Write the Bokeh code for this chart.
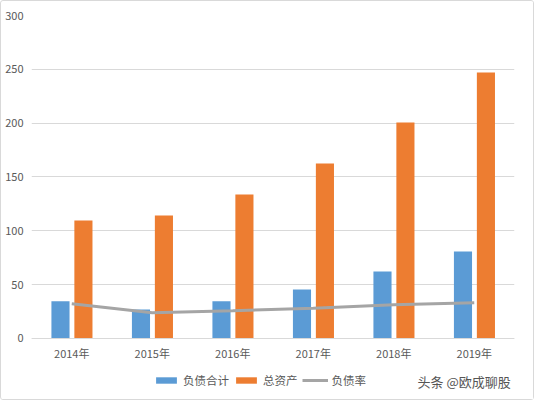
from bokeh.plotting import figure
from bokeh.models import (FactorRange, Range1d, Legend, LegendItem, Label,
                          ColumnDataSource, FixedTicker)
from bokeh.transform import dodge
from bokeh.embed import file_html
from bokeh.resources import INLINE

years = ["2014年", "2015年", "2016年", "2017年", "2018年", "2019年"]
liabilities = [34.6, 26.9, 34.6, 45.5, 62.2, 80.8]
assets = [109.6, 114.2, 133.7, 162.5, 200.6, 247.0]
debt_ratio = [32.2, 23.9, 25.7, 28.2, 31.3, 33.2]
y_ticks = [0, 50, 100, 150, 200, 250, 300]

FONT = "Noto Sans CJK SC"
BLUE, ORANGE, GREY = "#5B9BD5", "#ED7D31", "#A5A5A5"

src = ColumnDataSource(dict(year=years, liab=liabilities, assets=assets, ratio=debt_ratio))

p = figure(width=534, height=400, x_range=FactorRange(*years), y_range=Range1d(-56.66, 300),
           output_backend="svg", toolbar_location=None,
           min_border_left=30, min_border_right=21, min_border_top=14, min_border_bottom=2)
p.styles = {"border": "1px solid #D9D9D9", "border-radius": "3px"}
p.outline_line_color = None
p.background_fill_color = "white"
p.border_fill_color = "white"

r1 = p.vbar(x=dodge("year", -0.14, range=p.x_range), top="liab", width=0.225, source=src,
            fill_color=BLUE, line_color=None)
r2 = p.vbar(x=dodge("year", 0.145, range=p.x_range), top="assets", width=0.225, source=src,
            fill_color=ORANGE, line_color=None)
r3 = p.line(x="year", y="ratio", source=src, line_color=GREY, line_width=3)

p.yaxis.ticker = FixedTicker(ticks=y_ticks)
p.yaxis.axis_line_color = None
p.yaxis.major_tick_line_color = None
p.yaxis.minor_tick_line_color = None
p.yaxis.major_tick_out = 0
p.yaxis.major_tick_in = 0
p.yaxis.minor_tick_out = 0
p.yaxis.major_label_standoff = 8
p.yaxis.major_label_text_font = FONT
p.yaxis.major_label_text_font_size = "11px"
p.yaxis.major_label_text_color = "#595959"

p.xaxis.fixed_location = 0
p.xaxis.axis_line_color = "#D9D9D9"
p.xaxis.major_tick_line_color = None
p.xaxis.minor_tick_line_color = None
p.xaxis.major_tick_out = 0
p.xaxis.major_tick_in = 0
p.xaxis.major_label_standoff = 7
p.xaxis.major_label_text_font = FONT
p.xaxis.major_label_text_font_size = "11px"
p.xaxis.major_label_text_color = "#595959"

p.xgrid.grid_line_color = None
p.ygrid.grid_line_color = "#D9D9D9"
p.ygrid.ticker = FixedTicker(ticks=y_ticks)

legend = Legend(items=[LegendItem(label="负债合计", renderers=[r1]),
                       LegendItem(label="总资产", renderers=[r2]),
                       LegendItem(label="负债率", renderers=[r3])],
                orientation="horizontal", location=(122, 11),
                glyph_width=26, glyph_height=8, label_height=14, label_standoff=4,
                spacing=4, padding=0, margin=0,
                label_text_font=FONT, label_text_font_size="11.5px",
                label_text_color="#595959", border_line_color=None,
                background_fill_alpha=0)
p.add_layout(legend, "center")

wm = Label(x=386, y=18, x_units="screen", y_units="screen", text="头条 @欧成聊股",
           text_font=FONT, text_font_size="13px", text_color="#555555",
           text_baseline="middle")
p.add_layout(wm)

open("out.html", "w").write(file_html(p, INLINE))
